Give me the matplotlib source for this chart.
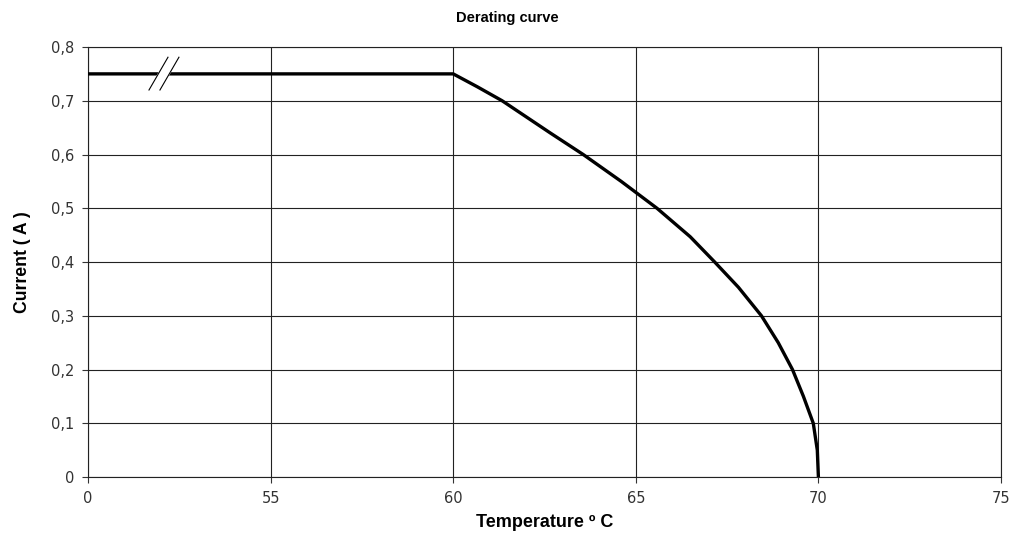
import matplotlib
matplotlib.use("Agg")
import matplotlib.pyplot as plt

# --- data ---
temp = [50, 60, 60.66, 61.34, 62.66, 63.56, 64.6, 65.58, 66.49, 67.16, 67.81,
        68.44, 68.9, 69.29, 69.59, 69.86, 69.97, 70.0]
current = [0.75, 0.75, 0.726, 0.70, 0.64, 0.60, 0.55, 0.50, 0.447, 0.40, 0.353,
           0.30, 0.25, 0.20, 0.15, 0.10, 0.05, 0.0]

x_ticks = [50, 55, 60, 65, 70, 75]
x_labels = ["0", "55", "60", "65", "70", "75"]
y_ticks = [0, 0.1, 0.2, 0.3, 0.4, 0.5, 0.6, 0.7, 0.8]
y_labels = ["0", "0,1", "0,2", "0,3", "0,4", "0,5", "0,6", "0,7", "0,8"]

plt.rcParams['font.family'] = ['Liberation Sans', 'DejaVu Sans']

fig = plt.figure(figsize=(10.15, 5.53), dpi=100)
ax = fig.add_axes([0.0867, 0.1374, 0.8995, 0.7776])

ax.plot(temp, current, color='black', linewidth=2.4, solid_capstyle='butt', zorder=3)

# axis break marks "//"
ax.fill([51.67, 52.19, 52.49, 51.97], [0.72, 0.781, 0.781, 0.72], color='white', zorder=4)
ax.plot([51.67, 52.19], [0.72, 0.781], color='black', linewidth=0.8, zorder=5)
ax.plot([51.97, 52.49], [0.72, 0.781], color='black', linewidth=0.8, zorder=5)

ax.set_xlim(50, 75)
ax.set_ylim(0, 0.8)
ax.set_xticks(x_ticks)
ax.set_xticklabels(x_labels, family='DejaVu Sans')
ax.set_yticks(y_ticks)
ax.set_yticklabels(y_labels, family='DejaVu Sans')
ax.tick_params(direction='out', length=4, width=0.8, labelsize=10.5, colors='#333333', pad=6)
ax.grid(True, color='#222222', linewidth=0.8)
ax.set_axisbelow(True)
for s in ax.spines.values():
    s.set_color('#222222')
    s.set_linewidth(0.8)

# chart title is centred on the whole figure, as in the reference
fig.text(0.5, 1 - 18 / 553, "Derating curve", ha='center', va='center',
         fontsize=10.5, fontweight='bold')
ax.set_xlabel("Temperature º C", fontsize=13, fontweight='bold', labelpad=6)
ax.set_ylabel("Current ( A )", fontsize=12.7, fontweight='bold', labelpad=14)

fig.savefig("out.png", dpi=100)
